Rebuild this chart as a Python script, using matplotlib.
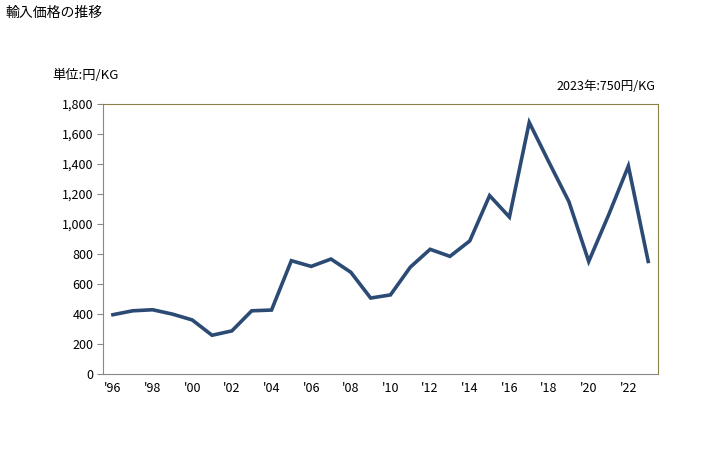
import matplotlib.pyplot as plt

plt.rcParams['font.family'] = ['Noto Sans CJK JP', 'DejaVu Sans']

years = list(range(1996, 2024))
price = [395, 421, 428, 399, 360, 258, 287, 421, 426, 755, 717, 766, 678, 506,
         527, 712, 831, 784, 887, 1189, 1046, 1677, 1410, 1149, 750, 1059, 1386, 750]
tick_years = list(range(1996, 2024, 2))
tick_labels = ["'%02d" % (y % 100) for y in tick_years]

fig = plt.figure(figsize=(7.28, 4.5), dpi=100)
ax = fig.add_axes([0.1415, 0.169, 0.7625, 0.6])

ax.plot(years, price, color='#2b4a74', linewidth=2.6, solid_joinstyle='miter')

ax.set_xlim(1995.5, 2023.5)
ax.set_ylim(0, 1800)
ax.set_yticks(range(0, 1801, 200))
ax.set_yticklabels(['{:,}'.format(v) for v in range(0, 1801, 200)])
ax.set_xticks(tick_years)
ax.set_xticklabels(tick_labels)
ax.tick_params(axis='y', length=4, color='#888888', labelsize=9, pad=3)
ax.tick_params(axis='x', length=0, labelsize=9, pad=6)

for side in ['left', 'bottom']:
    ax.spines[side].set_color('#888888')
for side in ['top', 'right']:
    ax.spines[side].set_color('#8b8045')

fig.text(0.007, 0.972, '輸入価格の推移', fontsize=10, va='center', ha='left')
fig.text(0.072, 0.833, '単位:円/KG', fontsize=9.5, va='center', ha='left')
fig.text(0.900, 0.808, '2023年:750円/KG', fontsize=9, va='center', ha='right')

fig.savefig('out.png', dpi=100)
